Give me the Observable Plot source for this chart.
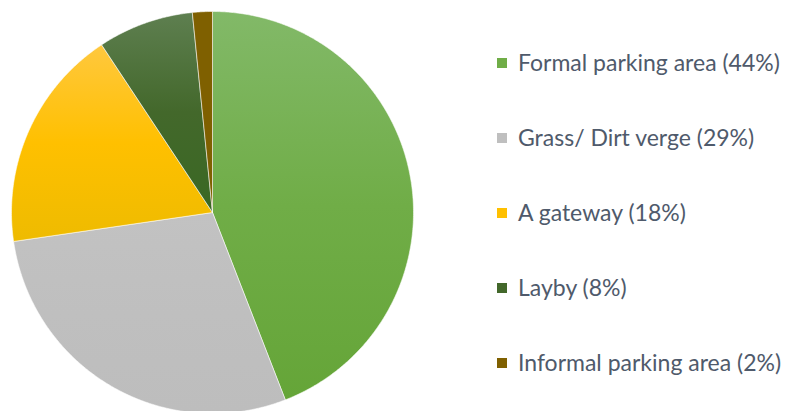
<!DOCTYPE html>
<html><head><meta charset="utf-8">
<script src="https://cdn.jsdelivr.net/npm/d3@7"></script>
<script src="https://cdn.jsdelivr.net/npm/@observablehq/plot@0.6"></script>
<style>
body{margin:0;background:#fff;}
#wrap{position:relative;width:790px;height:411px;overflow:hidden;}
#legend{position:absolute;left:0;top:0;font-family:Lato,"Open Sans",sans-serif;font-size:23px;line-height:1.2;color:#4f5a6b;}
.item{position:absolute;left:497px;white-space:nowrap;display:flex;align-items:center;}
.sw{width:10px;height:10px;margin-right:11px;}
</style></head>
<body><div id="wrap"><div id="legend"></div></div>
<script>
const categories = ["Formal parking area", "Grass/ Dirt verge", "A gateway", "Layby", "Informal parking area"];
const shares = [44.1, 28.6, 18.0, 7.7, 1.6];
const labels = ["44%", "29%", "18%", "8%", "2%"];
const swatch = ["#70ad47", "#bfbfbf", "#ffc000", "#43682b", "#7f6000"];
const gradients = [
  ["#82b968", "#70ad47", "#65a538"],
  ["#c2c2c2", "#bfbfbf", "#bdbdbd"],
  ["#ffc83e", "#ffc000", "#eebb00"],
  ["#5e7f50", "#43682b", "#3a6823"],
  ["#7f6000", "#7f6000", "#7f6000"]
];

const arcs = d3.pie().sort(null).startAngle(0).endAngle(2 * Math.PI)(shares);
const slices = arcs.map((a, i) => {
  const pts = [{x: 0, y: 0}];
  const n = Math.max(2, Math.ceil((a.endAngle - a.startAngle) / (Math.PI / 360)));
  for (let k = 0; k <= n; k++) {
    const t = a.startAngle + (a.endAngle - a.startAngle) * k / n;
    pts.push({x: Math.sin(t), y: Math.cos(t)});
  }
  pts.push({x: 0, y: 0});
  return pts;
});

const cx = 212, cy = 212, r = 201;
const svg = Plot.plot({
  width: 790, height: 411,
  margin: 0,
  style: {background: "transparent", overflow: "hidden"},
  x: {domain: [-1, 1], range: [cx - r, cx + r], axis: null},
  y: {domain: [-1, 1], range: [cy + r, cy - r], axis: null},
  marks: slices.map((pts, i) => Plot.line(pts, {
    x: "x", y: "y", fill: `url(#grad${i})`, stroke: "white", strokeWidth: 1, strokeOpacity: 0.55, curve: "linear"
  }))
});

const defs = d3.create("svg:defs");
gradients.forEach((g, i) => {
  const lg = defs.append("linearGradient").attr("id", "grad" + i)
    .attr("x1", 0).attr("y1", 0).attr("x2", 0).attr("y2", 1);
  lg.append("stop").attr("offset", "0%").attr("stop-color", g[0]);
  lg.append("stop").attr("offset", "50%").attr("stop-color", g[1]);
  lg.append("stop").attr("offset", "100%").attr("stop-color", g[2]);
});
svg.insertBefore(defs.node(), svg.firstChild);
document.getElementById("wrap").insertBefore(svg, document.getElementById("legend"));

const legend = d3.select("#legend");
categories.forEach((c, i) => {
  const it = legend.append("div").attr("class", "item").style("top", (49 + i * 75) + "px");
  it.append("div").attr("class", "sw").style("background", swatch[i]);
  it.append("span").text(`${c} (${labels[i]})`);
});
</script></body></html>
